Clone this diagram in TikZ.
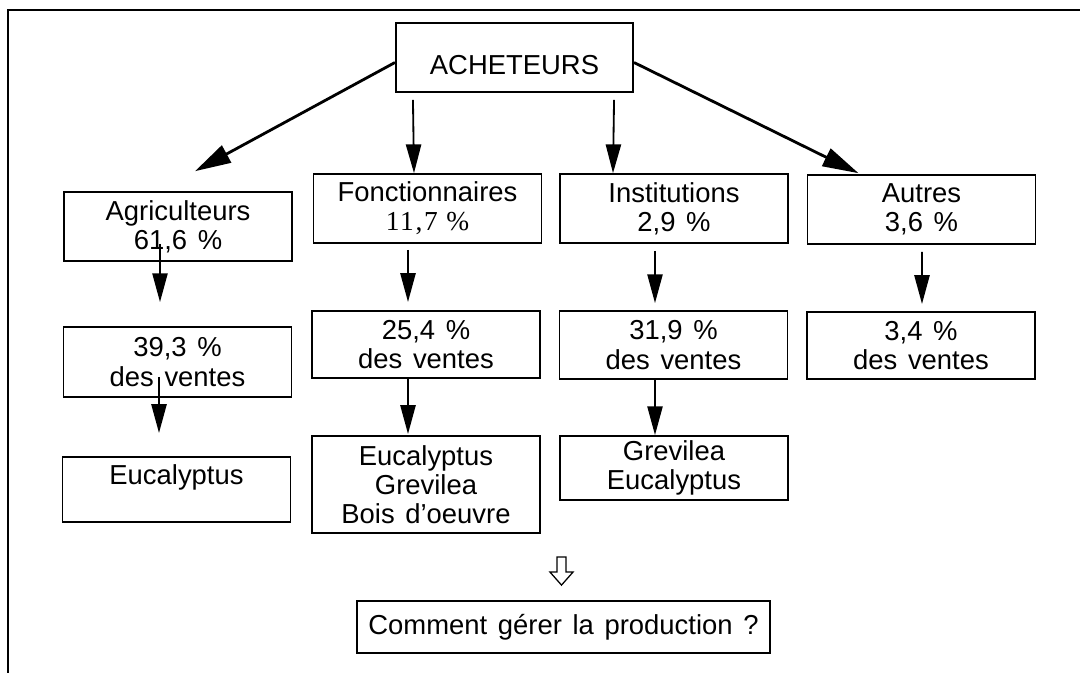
\documentclass[tikz,border=0pt]{standalone}
\usepackage{fontspec}
\setmainfont{Liberation Sans}[WordSpace={1.4,1,1}]
\newfontfamily\timesfont{Liberation Serif}[LetterSpace=6]
\usetikzlibrary{arrows.meta,calc}

\begin{document}
\begin{tikzpicture}[x=0.025cm, y=-0.025cm,
    cadre/.style ={rectangle, draw, line width=1.3pt, minimum width=5.7cm,
      minimum height=1.72cm, inner sep=0pt, align=center,
      font=\fontsize{19.5}{20.8}\selectfont},
    fleche/.style ={line width=1.3pt, -{Triangle[length=0.72cm, width=0.38cm]}},
    grosse/.style ={line width=2pt, -{Triangle[length=0.9cm, width=0.48cm]}}]
   \useasboundingbox (0,0) rectangle (1080,673);
   \draw[line width=1pt] (1080,10) -- (8,10) -- (8,673);

   \node[cadre, minimum width=5.93cm, text height=0.83cm, text depth=0pt] (ach) at (514.5,57.5) {ACHETEURS};

   \node[cadre] (agr) at (178,226.5) {Agriculteurs\\61,6 \%};
   \node[cadre] (fon) at (427.5,208.5) {Fonctionnaires\\{\timesfont 11,7 \%}};
   \node[cadre] (ins) at (674,208.5) {Institutions\\2,9 \%};
   \node[cadre] (aut) at (921.5,209.5) {Autres\\3,6 \%};

   \node[cadre, minimum height=1.75cm] (v1) at (177.5,362) {39,3 \%\\des ventes};
   \node[cadre, minimum height=1.68cm] (v2) at (426,344.5) {25,4 \%\\des ventes};
   \node[cadre, minimum height=1.7cm]  (v3) at (673.5,345) {31,9 \%\\des ventes};
   \node[cadre, minimum height=1.68cm] (v4) at (921,345.5) {3,4 \%\\des ventes};

   \node[cadre, minimum height=1.63cm] (e1) at (176.5,489.5) {Eucalyptus\\\mbox{}};
   \node[cadre, minimum height=2.43cm] (e2) at (426,484.5) {Eucalyptus\\Grevilea\\Bois d'oeuvre};
   \node[cadre, minimum height=1.6cm]  (e3) at (674,468) {Grevilea\\Eucalyptus};

   \node[cadre, minimum width=10.33cm, minimum height=1.3cm] (qst) at (563.5,627)
     {Comment gérer la production ?};

   % acheteurs -> categories
   \draw[grosse] ($(ach.west)+(0,5)$) to ($(agr.north)+(17,-20)$);
   \draw[grosse] ($(ach.east)+(0,5)$) to ($(aut.north)+(-63,-1)$);
   \draw[fleche] ($(ach.south west)+(18,7)$) to ($(fon.north)+(-13.5,0)$);
   \draw[fleche] ($(ach.south east)+(-20,7)$) to ($(ins.north)+(-61,0)$);

   % categories -> ventes
   \draw[fleche] ($(agr.south)+(-18,-18)$) to ($(v1.north)+(-17.5,-24)$);
   \draw[fleche] ($(fon.south)+(-19.5,6)$) to ($(v2.north)+(-18,-8)$);
   \draw[fleche] ($(ins.south)+(-19,7)$) to ($(v3.north)+(-18.5,-7)$);
   \draw[fleche] ($(aut.south)+(0.5,7)$) to ($(v4.north)+(1,-7)$);

   % ventes -> especes
   \draw[fleche] ($(v1.south)+(-18.5,-21)$) to ($(e1.north)+(-17.5,-23)$);
   \draw[fleche] ($(v2.south)+(-18,0)$) to ($(e2.north)+(-18,-1)$);
   \draw[fleche] ($(v3.south)+(-18.5,0)$) to ($(e3.north)+(-19,0)$);

   % fleche creuse
   \draw[line width=0.9pt, line join=miter] ($(qst.north)+(-6.5,-43)$) -- ++(9,0) -- ++(0,15)
     -- ++(7,0) -- ++(-11.5,13) -- ++(-11.5,-13) -- ++(7,0) -- cycle;
 \end{tikzpicture}
\end{document}
